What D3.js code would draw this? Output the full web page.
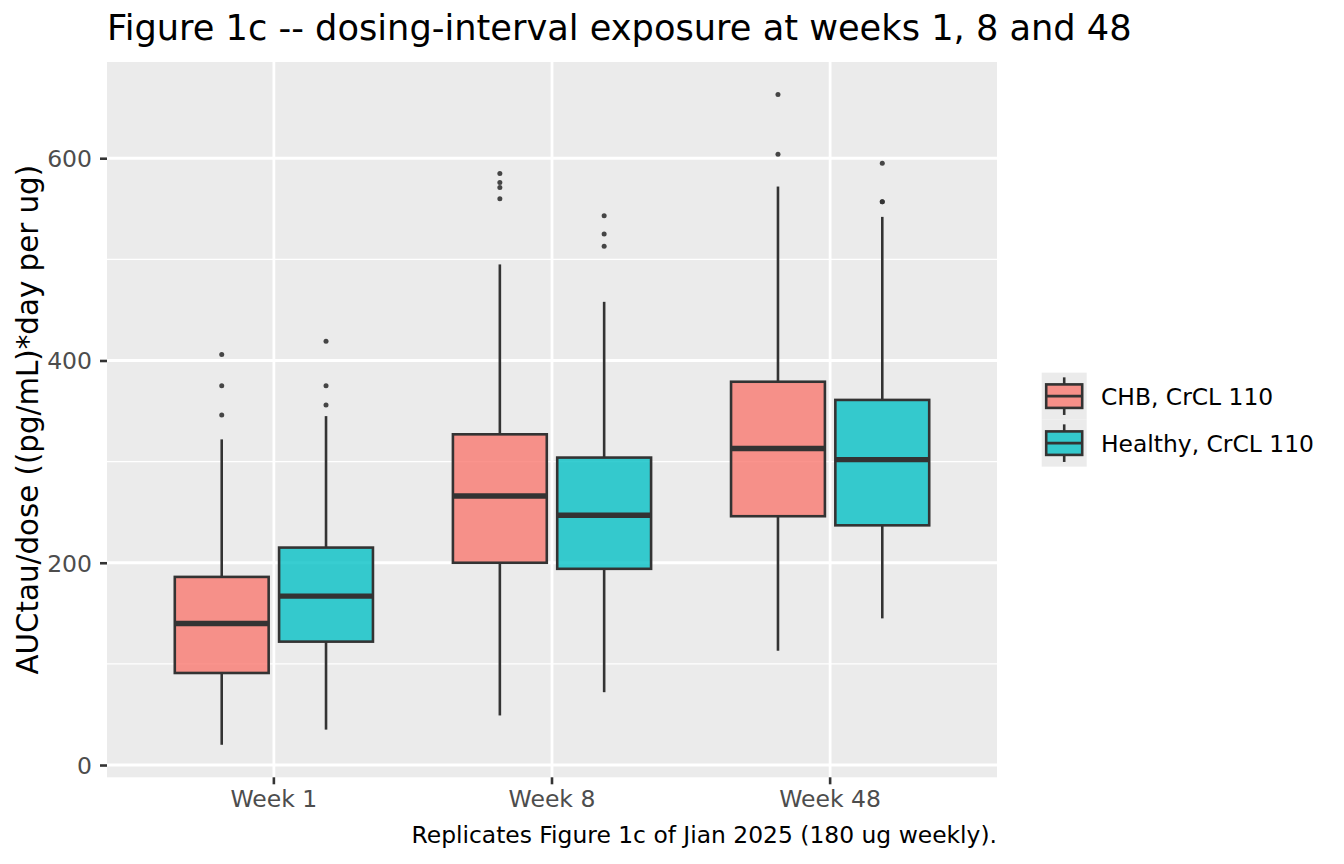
<!DOCTYPE html>
<html>
<head>
<meta charset="utf-8">
<script src="https://cdn.jsdelivr.net/npm/d3@7"></script>
<style>
  html, body { margin: 0; padding: 0; background: #ffffff; }
  svg { display: block; font-family: "DejaVu Sans", sans-serif; }
</style>
</head>
<body>
<svg id="chart" width="1344" height="864"></svg>
<script>
// ---- data ----
const weeks = ["Week 1", "Week 8", "Week 48"];
const series = ["CHB, CrCL 110", "Healthy, CrCL 110"];
const seriesColors = ["#F8766D", "#00BFC4"];

const chbLow    = [20, 49, 113];
const chbQ1     = [91, 200, 246];
const chbMedian = [140, 266, 313];
const chbQ3     = [186, 327, 379];
const chbHigh   = [322, 495, 572];
const chbOutliers = [[346, 375, 406], [560, 571, 576, 585], [604, 663]];

const healthyLow    = [35, 72, 145];
const healthyQ1     = [122, 194, 237];
const healthyMedian = [167, 247, 302];
const healthyQ3     = [215, 304, 361];
const healthyHigh   = [345, 458, 542];
const healthyOutliers = [[356, 375, 419], [513, 525, 543], [557, 557, 595]];

const yTicks = [0, 200, 400, 600];
const yMinorTicks = [100, 300, 500];

const titleText = "Figure 1c -- dosing-interval exposure at weeks 1, 8 and 48";
const yTitle = "AUCtau/dose ((pg/mL)*day per ug)";
const caption = "Replicates Figure 1c of Jian 2025 (180 ug weekly).";

// ---- build records ----
const stats = [
  {low: chbLow, q1: chbQ1, med: chbMedian, q3: chbQ3, high: chbHigh, out: chbOutliers},
  {low: healthyLow, q1: healthyQ1, med: healthyMedian, q3: healthyQ3, high: healthyHigh, out: healthyOutliers}
];
const boxes = [];
weeks.forEach((w, i) => {
  series.forEach((s, j) => {
    const st = stats[j];
    boxes.push({week: w, series: s, color: seriesColors[j],
      low: st.low[i], q1: st.q1[i], med: st.med[i], q3: st.q3[i], high: st.high[i], out: st.out[i]});
  });
});

// ---- layout ----
const panel = {left: 107, right: 997, top: 62, bottom: 777.3};
const svg = d3.select("#chart");

const allVals = boxes.flatMap(b => [b.low, b.high, ...b.out]);
const vmin = d3.min(allVals), vmax = d3.max(allVals);
const pad = (vmax - vmin) * 0.05;
const y = d3.scaleLinear().domain([vmin - pad, vmax + pad]).range([panel.bottom, panel.top]);

const x = d3.scaleBand().domain(weeks).range([panel.left, panel.right])
  .paddingInner(0).paddingOuter(0.1);
const step = x.bandwidth();
const xSub = d3.scaleBand().domain(series).range([-0.375 * step, 0.375 * step]);
const boxW = xSub.bandwidth() * 0.9;

// panel background
svg.append("rect").attr("x", panel.left).attr("y", panel.top)
  .attr("width", panel.right - panel.left).attr("height", panel.bottom - panel.top)
  .attr("fill", "#EBEBEB");

// gridlines
const grid = svg.append("g");
grid.selectAll(".minor").data(yMinorTicks).join("line")
  .attr("x1", panel.left).attr("x2", panel.right)
  .attr("y1", d => y(d)).attr("y2", d => y(d))
  .attr("stroke", "#ffffff").attr("stroke-width", 1.4);
grid.selectAll(".majorY").data(yTicks).join("line")
  .attr("x1", panel.left).attr("x2", panel.right)
  .attr("y1", d => y(d)).attr("y2", d => y(d))
  .attr("stroke", "#ffffff").attr("stroke-width", 2.8);
grid.selectAll(".majorX").data(weeks).join("line")
  .attr("x1", d => x(d) + step / 2).attr("x2", d => x(d) + step / 2)
  .attr("y1", panel.top).attr("y2", panel.bottom)
  .attr("stroke", "#ffffff").attr("stroke-width", 2.8);

// boxplots
const outline = "#333333";
const bg = svg.append("g");
boxes.forEach(b => {
  const cx = x(b.week) + step / 2 + xSub(b.series) + xSub.bandwidth() / 2;
  const g = bg.append("g");
  g.append("line").attr("x1", cx).attr("x2", cx).attr("y1", y(b.q3)).attr("y2", y(b.high))
    .attr("stroke", outline).attr("stroke-width", 2.6);
  g.append("line").attr("x1", cx).attr("x2", cx).attr("y1", y(b.q1)).attr("y2", y(b.low))
    .attr("stroke", outline).attr("stroke-width", 2.6);
  g.append("rect").attr("x", cx - boxW / 2).attr("width", boxW)
    .attr("y", y(b.q3)).attr("height", y(b.q1) - y(b.q3))
    .attr("fill", b.color).attr("fill-opacity", 0.78)
    .attr("stroke", outline).attr("stroke-width", 2.6);
  g.append("line").attr("x1", cx - boxW / 2).attr("x2", cx + boxW / 2)
    .attr("y1", y(b.med)).attr("y2", y(b.med))
    .attr("stroke", outline).attr("stroke-width", 5.4);
  g.selectAll("circle").data(b.out).join("circle")
    .attr("cx", cx).attr("cy", d => y(d)).attr("r", 2.5)
    .attr("fill", outline).attr("fill-opacity", 0.9);
});

// axes
const tickColor = "#333333", labelColor = "#4D4D4D";
const yAxis = svg.append("g").attr("transform", `translate(${panel.left},0)`)
  .call(d3.axisLeft(y).tickValues(yTicks).tickSize(7).tickPadding(8));
const xAxis = svg.append("g").attr("transform", `translate(0,${panel.bottom})`)
  .call(d3.axisBottom(x).tickSize(7).tickPadding(6));
[yAxis, xAxis].forEach(a => {
  a.select(".domain").remove();
  a.selectAll(".tick line").attr("stroke", tickColor).attr("stroke-width", 2.6);
  a.selectAll(".tick text").attr("fill", labelColor)
    .style("font-family", "DejaVu Sans").style("font-size", "23.5px");
});
yAxis.selectAll(".tick text").attr("dy", "0.36em");

// titles
svg.append("text").attr("x", 107).attr("y", 40)
  .style("font-size", "35.2px").attr("fill", "#000").text(titleText);
svg.append("text")
  .attr("transform", `translate(38,${(panel.top + panel.bottom) / 2}) rotate(-90)`)
  .attr("text-anchor", "middle").style("font-size", "29.3px").attr("fill", "#000").text(yTitle);
svg.append("text").attr("x", panel.right).attr("y", 843).attr("text-anchor", "end")
  .style("font-size", "23.4px").attr("fill", "#000").text(caption);

// legend
const keyW = 45, keyH = 47;
const legTop = (panel.top + panel.bottom) / 2 - keyH;
const legX = 1041.7;
const leg = svg.append("g");
series.forEach((s, j) => {
  const ky = legTop + j * keyH;
  const g = leg.append("g").attr("transform", `translate(${legX},${ky})`);
  g.append("rect").attr("width", keyW).attr("height", keyH).attr("fill", "#EBEBEB");
  const cx = keyW / 2;
  g.append("line").attr("x1", cx).attr("x2", cx).attr("y1", keyH * 0.1).attr("y2", keyH * 0.25)
    .attr("stroke", outline).attr("stroke-width", 2.6);
  g.append("line").attr("x1", cx).attr("x2", cx).attr("y1", keyH * 0.75).attr("y2", keyH * 0.9)
    .attr("stroke", outline).attr("stroke-width", 2.6);
  g.append("rect").attr("x", keyW * 0.1).attr("width", keyW * 0.8)
    .attr("y", keyH * 0.25).attr("height", keyH * 0.5)
    .attr("fill", seriesColors[j]).attr("fill-opacity", 0.78)
    .attr("stroke", outline).attr("stroke-width", 2.6);
  g.append("line").attr("x1", keyW * 0.1).attr("x2", keyW * 0.9)
    .attr("y1", keyH / 2).attr("y2", keyH / 2)
    .attr("stroke", outline).attr("stroke-width", 2.6);
  leg.append("text").attr("x", 1101).attr("y", ky + keyH / 2).attr("dy", "0.36em")
    .style("font-size", "23.4px").attr("fill", "#000").text(s);
});
</script>
</body>
</html>
